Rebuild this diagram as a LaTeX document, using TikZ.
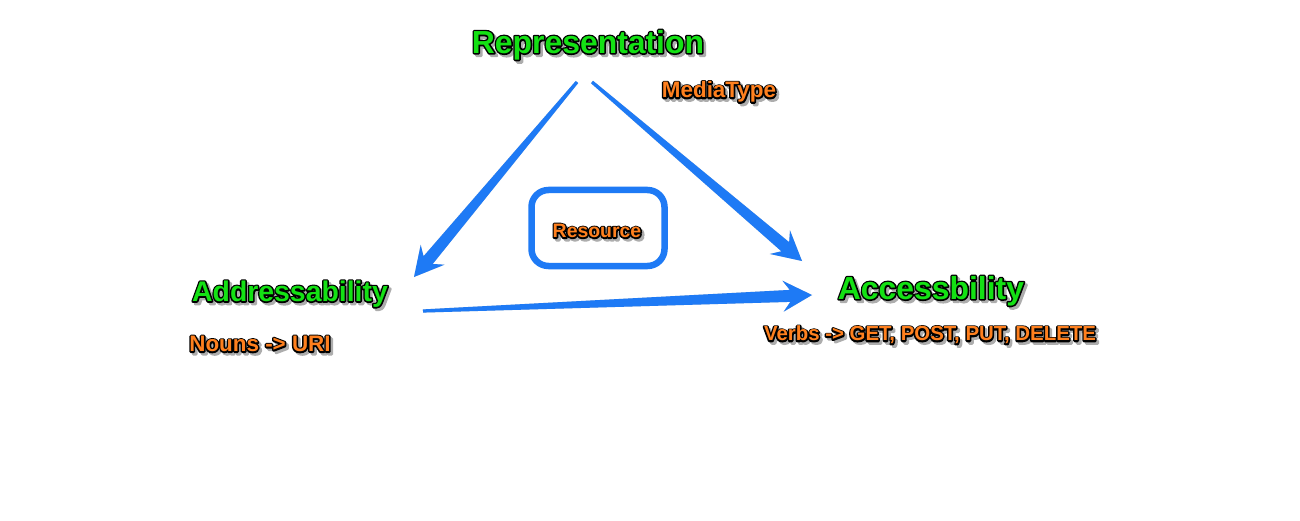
\documentclass[tikz,border=0pt]{standalone}
\usepackage{fontspec}
\setmainfont{Liberation Sans}
\usetikzlibrary{calc}
\definecolor{arrowblue}{RGB}{30,122,245}
\definecolor{lblgreen}{RGB}{20,225,20}
\definecolor{lblorange}{RGB}{255,128,30}
\definecolor{shadowgray}{gray}{0.68}
% stroked text: fill colour #1, stroke colour (pdf RGB triple) #2, width #3, text #4
\newcommand{\strk}[4]{%
  \textcolor{#1}{\special{pdf:literal direct 1 j #2 RG #3 w 2 Tr}#4\special{pdf:literal direct 0 Tr}}}
\newcommand{\fancytxt}[2]{\rlap{\strk{black}{0 0 0}{3}{#2}}\textcolor{#1}{#2}}
\newcommand{\shadowtxt}[1]{\strk{shadowgray}{0.68 0.68 0.68}{3}{#1}}
\newcommand{\fatarrow}[2]{%
  \coordinate (fa-n) at ($(#2)!22bp!(#1)$);
  \coordinate (fa-b) at ($(#2)!29bp!(#1)$);
  \fill[arrowshadow, shift={(1.5bp,-1.5bp)}]
    ($(#1)!1.6bp!90:(#2)$) -- ($(fa-n)!6bp!90:(#2)$) -- ($(fa-b)!15.5bp!90:(#2)$) --
    (#2) -- ($(fa-b)!15.5bp!-90:(#2)$) -- ($(fa-n)!6bp!-90:(#2)$) -- ($(#1)!1.6bp!-90:(#2)$) -- cycle;
  \fill[arrowblue]
    ($(#1)!1.6bp!90:(#2)$) -- ($(fa-n)!6bp!90:(#2)$) -- ($(fa-b)!15.5bp!90:(#2)$) --
    (#2) -- ($(fa-b)!15.5bp!-90:(#2)$) -- ($(fa-n)!6bp!-90:(#2)$) -- ($(#1)!1.6bp!-90:(#2)$) -- cycle;
}
\tikzset{
  arrowshadow/.style={fill=black!18},
  bigA/.style={font=\bfseries\fontsize{32}{32}\selectfont, inner sep=0pt},
  bigB/.style={font=\bfseries\fontsize{28.5}{28.5}\selectfont, inner sep=0pt},
  small/.style={font=\bfseries\fontsize{22.5}{22.5}\selectfont, inner sep=0pt},
  smallB/.style={font=\bfseries\fontsize{20.5}{20.5}\selectfont, inner sep=0pt},
  tiny/.style={font=\bfseries\fontsize{19.5}{19.5}\selectfont, inner sep=0pt},
}
\begin{document}
\begin{tikzpicture}[x=1bp,y=-1bp]
\useasboundingbox[fill=white] (0,0) rectangle (1300,521);
% resource box
\node[draw=arrowblue, line width=6.5bp, rounded corners=17bp, minimum width=133bp, minimum height=76bp] (box) at (598,228) {};
% label shadows
\foreach \st/\x/\y/\t in {
  bigA/588/45/Representation,
  small/719/92/MediaType,
  bigB/290/294/Addressability,
  small/260/344/Nouns -> URI,
  bigA/931/291/Accessbility,
  smallB/930/335/{Verbs -> GET, POST, PUT, DELETE},
  tiny/597/231/Resource}{
  \node[\st] at (\x+2.5,\y+2.5) {\shadowtxt{\t}};
}
\node[bigA] (rep) at (588,45) {\fancytxt{lblgreen}{Representation}};
\node[small] (media) at (719,92) {\fancytxt{lblorange}{MediaType}};
\node[bigB] (addr) at (290,294) {\fancytxt{lblgreen}{Addressability}};
\node[small] (nouns) at (260,344) {\fancytxt{lblorange}{Nouns -> URI}};
\node[bigA] (acc) at (931,291) {\fancytxt{lblgreen}{Accessbility}};
\node[smallB] (verbs) at (930,335) {\fancytxt{lblorange}{Verbs -> GET, POST, PUT, DELETE}};
\node[tiny] (res) at (597,231) {\fancytxt{lblorange}{Resource}};
% arrows
\coordinate (t1) at (577,82);  \coordinate (h1) at (414,277);
\coordinate (t2) at (592,82);  \coordinate (h2) at (802,261);
\coordinate (t3) at (423,311); \coordinate (h3) at (812,295);
\fatarrow{t1}{h1}
\fatarrow{t2}{h2}
\fatarrow{t3}{h3}
\end{tikzpicture}
\end{document}
